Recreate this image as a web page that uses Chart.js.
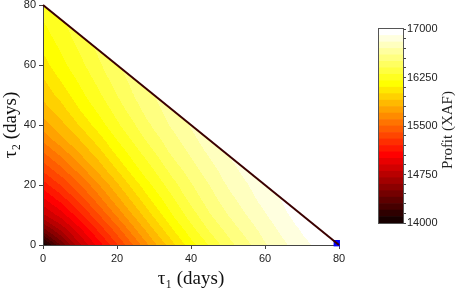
<!DOCTYPE html>
<html>
<head>
<meta charset="utf-8">
<script src="https://cdn.jsdelivr.net/npm/chart.js@4.4.1/dist/chart.umd.min.js"></script>
<style>
  html, body { margin: 0; padding: 0; background: #fff; }
  #wrap { position: relative; width: 457px; height: 290px; }
  #main { position: absolute; left: 0; top: 0; }
  #bar { position: absolute; left: 370px; top: 0; }
</style>
</head>
<body>
<div id="wrap">
  <canvas id="main" width="370" height="290"></canvas>
  <canvas id="bar" width="87" height="290"></canvas>
</div>
<script>
"use strict";

// grid spacing (days)
const tauStep = 5;
const tauMax = 80;

// estimated profit (XAF), one row per tau2 = 0, 5, ..., 80
// each row runs from tau1 = 0 to tau1 = 80 - tau2
const profit = [
  [14000, 14420, 14780, 15040, 15290, 15530, 15770, 15970, 16160, 16310, 16460, 16570, 16690, 16780, 16870, 16930, 17000],
  [14450, 14720, 14970, 15220, 15450, 15690, 15900, 16090, 16260, 16410, 16530, 16640, 16740, 16830, 16910, 16970],
  [14780, 14950, 15170, 15390, 15620, 15830, 16020, 16200, 16350, 16490, 16600, 16700, 16790, 16880, 16950],
  [14970, 15140, 15340, 15550, 15760, 15950, 16130, 16280, 16430, 16550, 16660, 16750, 16840, 16910],
  [15150, 15310, 15490, 15690, 15880, 16060, 16220, 16360, 16490, 16600, 16710, 16790, 16880],
  [15320, 15470, 15650, 15830, 16000, 16170, 16300, 16440, 16550, 16660, 16750, 16840],
  [15470, 15620, 15790, 15940, 16110, 16250, 16380, 16510, 16610, 16710, 16800],
  [15620, 15770, 15900, 16050, 16200, 16330, 16460, 16560, 16670, 16750],
  [15750, 15870, 16010, 16150, 16280, 16400, 16520, 16620, 16710],
  [15850, 15960, 16100, 16220, 16340, 16470, 16560, 16660],
  [15930, 16040, 16170, 16280, 16400, 16510, 16600],
  [15990, 16110, 16220, 16330, 16450, 16540],
  [16060, 16170, 16270, 16380, 16490],
  [16110, 16210, 16310, 16420],
  [16160, 16250, 16350],
  [16200, 16290],
  [16230]
];

// constraint tau1 + tau2 = 80 and the optimum
const boundary = [{ x: 0, y: 80 }, { x: 80, y: 0 }];
const optimum = [{ x: 79.4, y: 0.6 }];

// contour levels and colorbar labels
const levels = [14000, 14100, 14200, 14300, 14400, 14500, 14600, 14700, 14800, 14900,
  15000, 15100, 15200, 15300, 15400, 15500, 15600, 15700, 15800, 15900,
  16000, 16100, 16200, 16300, 16400, 16500, 16600, 16700, 16800, 16900, 17000];
const cbTicks = [14000, 14750, 15500, 16250, 17000];

// "hot" colormap, one colour per band
function hotColor(i, m) {
  const n = Math.floor(3 / 8 * m);
  const k = i + 1;
  const r = k <= n ? k / n : 1;
  const g = k <= n ? 0 : (k <= 2 * n ? (k - n) / n : 1);
  const b = k <= 2 * n ? 0 : (k - 2 * n) / (m - 2 * n);
  return [r, g, b].map(c => Math.round(c * 255));
}
const nBands = levels.length - 1;
const colors = levels.slice(0, -1).map((_, i) => hotColor(i, nBands));

// linear interpolation inside the triangles of the grid
function profitAt(t1, t2) {
  const n = tauMax / tauStep;
  let i = Math.max(0, Math.min(Math.floor(t1 / tauStep), n - 1));
  let j = Math.max(0, Math.min(Math.floor(t2 / tauStep), n - 1));
  let fx = t1 / tauStep - i, fy = t2 / tauStep - j;
  if (i + j > n - 1) {
    if (i > 0) { i--; fx += 1; } else { j--; fy += 1; }
  }
  const v00 = profit[j][i];
  if (fx + fy <= 1 || i + j >= n - 1) {
    return v00 + fx * (profit[j][i + 1] - v00) + fy * (profit[j + 1][i] - v00);
  }
  const v11 = profit[j + 1][i + 1];
  return v11 + (1 - fx) * (profit[j + 1][i] - v11) + (1 - fy) * (profit[j][i + 1] - v11);
}

// filled contour drawn under the axes
const fieldPlugin = {
  id: "field",
  beforeDraw(chart) {
    const { ctx, chartArea: a, scales: { x, y } } = chart;
    const w = Math.round(a.right - a.left), h = Math.round(a.bottom - a.top);
    const off = document.createElement("canvas");
    off.width = w;
    off.height = h;
    const octx = off.getContext("2d");
    const img = octx.createImageData(w, h);
    const xs = [], ys = [];
    for (let i = 0; i < w; i++) xs.push(x.getValueForPixel(a.left + i + 0.5));
    for (let j = 0; j < h; j++) ys.push(y.getValueForPixel(a.top + j + 0.5));
    const step = levels[1] - levels[0];
    for (let j = 0; j < h; j++) {
      for (let i = 0; i < w; i++) {
        if (xs[i] + ys[j] > tauMax) continue;
        const v = profitAt(xs[i], ys[j]);
        let k = Math.floor((v - levels[0]) / step);
        k = Math.max(0, Math.min(nBands - 1, k));
        const c = colors[k];
        const p = (j * w + i) * 4;
        img.data[p] = c[0];
        img.data[p + 1] = c[1];
        img.data[p + 2] = c[2];
        img.data[p + 3] = 255;
      }
    }
    octx.putImageData(img, 0, 0);
    ctx.drawImage(off, a.left, a.top);
  }
};

const tickFont = { family: "'Liberation Sans', Arial, sans-serif", size: 11 };
const titleFont = { family: "'Liberation Serif', 'DejaVu Serif', serif", size: 19 };

new Chart(document.getElementById("main"), {
  type: "scatter",
  data: {
    datasets: [
      {
        type: "line",
        data: boundary,
        borderColor: "#3a0000",
        borderWidth: 2,
        pointRadius: 0,
        fill: false,
        clip: false
      },
      {
        data: optimum,
        pointStyle: "rect",
        pointRadius: 4.5,
        backgroundColor: "#0000ff",
        borderColor: "#0000ff",
        borderWidth: 0,
        clip: false
      }
    ]
  },
  options: {
    responsive: false,
    animation: false,
    layout: { padding: { left: 0, right: 31, top: 5, bottom: 0 } },
    plugins: { legend: { display: false }, tooltip: { enabled: false } },
    scales: {
      x: {
        type: "linear",
        min: 0,
        max: 80,
        ticks: { stepSize: 20, font: tickFont, color: "#222", padding: 3, maxRotation: 0 },
        grid: { drawOnChartArea: false, tickLength: 4, color: "#444" },
        border: { color: "#444" },
        title: { display: true, text: "τ₁ (days)", font: titleFont, color: "#111", padding: 0 },
        afterFit(s) { s.height = 45; s.paddingLeft = 0; s.paddingRight = 0; }
      },
      y: {
        type: "linear",
        min: 0,
        max: 80,
        ticks: { stepSize: 20, font: tickFont, color: "#222", padding: 3 },
        grid: { drawOnChartArea: false, tickLength: 4, color: "#444" },
        border: { color: "#444" },
        title: { display: true, text: "τ₂ (days)", font: titleFont, color: "#111", padding: 0 },
        afterFit(s) { s.width = 43; s.paddingTop = 0; s.paddingBottom = 0; }
      }
    }
  },
  plugins: [fieldPlugin]
});

// colorbar frame and label
const framePlugin = {
  id: "frame",
  afterDatasetsDraw(chart) {
    const { ctx, chartArea: a } = chart;
    ctx.save();
    ctx.strokeStyle = "#555";
    ctx.lineWidth = 1;
    ctx.strokeRect(Math.round(a.left) - 0.5, Math.round(a.top) - 0.5,
      Math.round(a.right - a.left) + 1, Math.round(a.bottom - a.top) + 1);
    ctx.translate(78, 130);
    ctx.rotate(-Math.PI / 2);
    ctx.fillStyle = "#222";
    ctx.font = "15px 'Liberation Serif', 'DejaVu Serif', serif";
    ctx.textAlign = "center";
    ctx.textBaseline = "middle";
    ctx.fillText("Profit (XAF)", 0, 0);
    ctx.restore();
  }
};

new Chart(document.getElementById("bar"), {
  type: "bar",
  data: {
    labels: ["Profit"],
    datasets: levels.slice(0, -1).map((lo, k) => ({
      data: [[lo, levels[k + 1]]],
      backgroundColor: "rgb(" + colors[k].join(",") + ")",
      borderWidth: 0,
      barPercentage: 1,
      categoryPercentage: 1,
      grouped: false
    }))
  },
  options: {
    responsive: false,
    animation: false,
    layout: { padding: { left: 9, right: 0, top: 29, bottom: 67 } },
    plugins: { legend: { display: false }, tooltip: { enabled: false } },
    scales: {
      x: { display: false },
      y: {
        position: "right",
        min: levels[0],
        max: levels[levels.length - 1],
        ticks: {
          stepSize: 150,
          autoSkip: false,
          font: tickFont,
          color: "#222",
          padding: 1,
          callback: v => cbTicks.includes(v) ? String(v) : ""
        },
        grid: { drawOnChartArea: false, tickLength: 3, color: "#444" },
        border: { color: "#555" },
        afterFit(s) { s.width = 54; s.paddingTop = 0; s.paddingBottom = 0; }
      }
    }
  },
  plugins: [framePlugin]
});
</script>
</body>
</html>
